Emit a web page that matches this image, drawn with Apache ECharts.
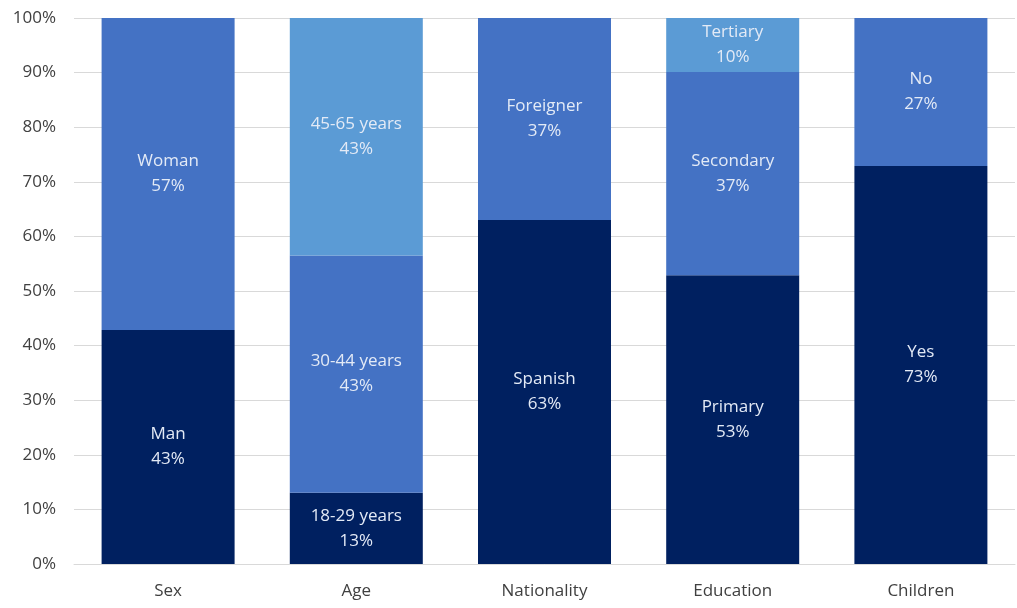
<!DOCTYPE html>
<html>
<head>
<meta charset="utf-8">
<script src="https://cdn.jsdelivr.net/npm/echarts@6/dist/echarts.min.js"></script>
<style>html,body{margin:0;padding:0;background:#fff}#c{width:1017px;height:608px}</style>
</head>
<body>
<div id="c"></div>
<script>
var categories = ['Sex', 'Age', 'Nationality', 'Education', 'Children'];
var bottomValues = [42.86, 13.04, 63.0, 52.9, 72.9];
var middleValues = [57.14, 43.48, 37.0, 37.2, 27.1];
var topValues = [0, 43.48, 0, 9.9, 0];
var bottomNames = ['Man', '18-29 years', 'Spanish', 'Primary', 'Yes'];
var middleNames = ['Woman', '30-44 years', 'Foreigner', 'Secondary', 'No'];
var topNames = ['', '45-65 years', '', 'Tertiary', ''];
var yTicks = [0, 10, 20, 30, 40, 50, 60, 70, 80, 90, 100];

var FONT = '"Open Sans", "Liberation Sans", sans-serif';
function mkSeries(values, names, color) {
  return {
    type: 'bar',
    stack: 'total',
    barWidth: 133,
    data: values.map(function (v, i) { return { value: v, name: names[i] }; }),
    itemStyle: { color: color },
    label: {
      show: true,
      position: 'inside',
      color: '#e3eaf6',
      fontFamily: FONT,
      fontSize: 17,
      lineHeight: 25,
      formatter: function (p) {
        if (!p.value) return '';
        return names[p.dataIndex] + '\n' + Math.round(p.value) + '%';
      }
    }
  };
}

var chart = echarts.init(document.getElementById('c'), null, { renderer: 'canvas' });
chart.setOption({
  animation: false,
  grid: { left: 74, right: 2, top: 18, bottom: 44 },
  xAxis: {
    type: 'category',
    data: categories,
    axisLine: { lineStyle: { color: '#d9d9d9', width: 1 } },
    axisTick: { show: false },
    axisLabel: { color: '#404040', fontFamily: FONT, fontSize: 17, margin: 19 }
  },
  yAxis: {
    type: 'value',
    min: yTicks[0],
    max: yTicks[yTicks.length - 1],
    interval: 10,
    axisLine: { show: false },
    axisTick: { show: false },
    splitLine: { lineStyle: { color: '#d9d9d9', width: 1 } },
    axisLabel: { color: '#404040', fontFamily: FONT, fontSize: 17, margin: 18, formatter: '{value}%' }
  },
  series: [
    mkSeries(bottomValues, bottomNames, '#002060'),
    mkSeries(middleValues, middleNames, '#4472c4'),
    mkSeries(topValues, topNames, '#5b9bd5')
  ]
});
</script>
</body>
</html>
